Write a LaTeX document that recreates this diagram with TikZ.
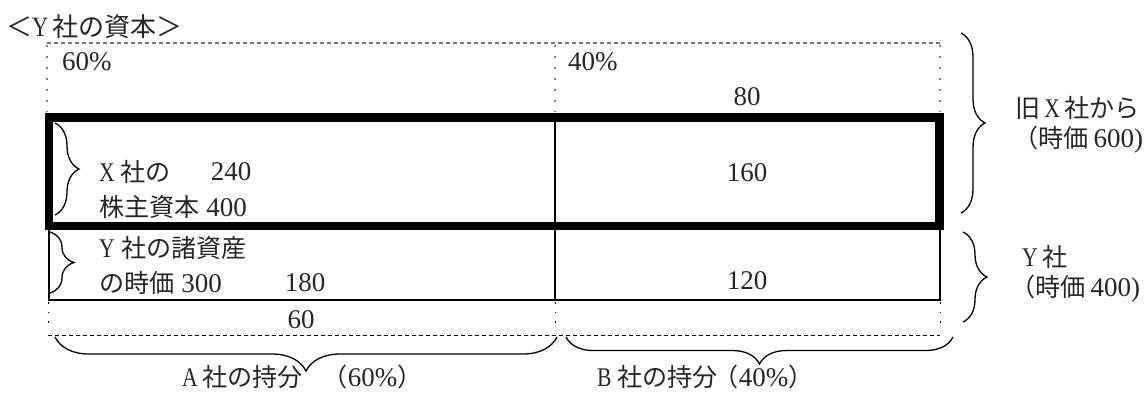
\documentclass[tikz,border=0pt]{standalone}
\usepackage{fontspec}
\setmainfont{Liberation Serif}
\newfontfamily\jp{Noto Sans CJK JP}[Scale=0.93]
\newfontfamily\hw{Liberation Serif}[FakeStretch=0.8]
\usetikzlibrary{decorations.pathreplacing}
\newcommand*{\J}[1]{{\jp #1}}
\newcommand*{\hc}[1]{\makebox[20pt][l]{\hw #1}}

\begin{document}
\begin{tikzpicture}[x=1pt,y=-1pt,
    txt_left/.style ={anchor=west, inner sep=0pt, text=black!85,
      font=\fontsize{27}{31}\selectfont},
    txt_center/.style ={anchor=center, inner sep=0pt, text=black!85,
      font=\fontsize{27}{31}\selectfont},
    line_dash/.style ={draw=black!55, dash pattern=on 4pt off 3pt, line width=1.2pt},
    line_dot/.style ={draw=black!50, dash pattern=on 2pt off 9pt, line width=1.5pt},
    line_dash_low/.style ={draw=black, dash pattern=on 4pt off 3pt, line width=1pt},
    line_dot_low/.style ={draw=black, dash pattern=on 1.5pt off 8pt, line width=1pt},
    block_thick/.style ={draw=black, line width=8.5pt},
    block_thin/.style ={draw=black, line width=1.6pt},
    brace_line/.style ={draw, line width=1.3pt, decorate,
      decoration={brace, amplitude=#1}}]
    \useasboundingbox (0,0) rectangle (1145,392);
    % title
    \node [txt_left, font=\fontsize{28}{32}\selectfont] (title) at (6,27)
      {\J{＜}\hc{Y}\J{社の資本＞}};
    % row 1
    \draw [line_dash] (47,43) -- (940,43);
    \foreach \x in {47,555,940} \draw [line_dot] (\x,45) -- (\x,112);
    \node [txt_left] (pct_a) at (62,62) {60\%};
    \node [txt_left] (pct_b) at (568,62) {40\%};
    \node [txt_center] (val_old_b) at (747,97) {80};
    % row 2
    \draw [block_thick] (49,117.5) rectangle (939.5,226);
    \node [txt_left] (x_cap) at (99,172) {\hc{X}\hspace{1pt}\J{社の}};
    \node [txt_center] (val_old_a) at (231,172) {240};
    \node [txt_left] (x_cap_total) at (99,207) {\J{株主資本} 400};
    \node [txt_center] (val_cap_b) at (747,173) {160};
    % row 3
    \draw [block_thin] (555,122) -- (555,300);
    \draw [block_thin] (49,230) -- (49,300) -- (940,300) -- (940,230);
    \node [txt_left] (y_asset) at (99,248) {\hc{Y}\hspace{2pt}\J{社の諸資産}};
    \node [txt_left] (y_asset_total) at (99,283) {\J{の時価} 300};
    \node [txt_center] (val_asset_a) at (305,283) {180};
    \node [txt_center] (val_asset_b) at (747,281) {120};
    % row 4
    \foreach \x in {48,555,940} \draw [line_dot_low] (\x,302) -- (\x,326);
    \draw [line_dash_low] (48,335) -- (940,335);
    \node [txt_center] (val_good_a) at (301,320) {60};
    % bottom labels
    \node [txt_left] (share_a) at (182,377)
      {\hc{A}\J{社の持分}\hspace{20pt}\J{（}60\%\J{）}};
    \node [txt_left] (share_b) at (597,377)
      {\hc{B}\J{社の持分}\hspace{-4pt}\J{（}40\%\J{）}};
    % right labels
    \node [txt_left] (old_x) at (1015,108) {\J{旧}\hspace{4pt}\hc{X}\J{社から}};
    \node [txt_left] (old_x_value) at (1013,140) {\J{（時価}\hspace{5pt}600)};
    \node [txt_left] (y_co) at (1022,257) {\hc{Y}\J{社}};
    \node [txt_left] (y_co_value) at (1010,289) {\J{（時価}\hspace{5pt}400)};
    % brace end points
    \coordinate (br_cap_top) at (55,123);
    \coordinate (br_cap_bot) at (55,215);
    \coordinate (br_asset_top) at (50,232);
    \coordinate (br_asset_bot) at (50,293);
    \coordinate (br_old_top) at (961,33);
    \coordinate (br_old_bot) at (961,213);
    \coordinate (br_y_top) at (963,232);
    \coordinate (br_y_bot) at (963,322);
    \coordinate (br_a_left) at (55,337);
    \coordinate (br_a_right) at (557,337);
    \coordinate (br_b_left) at (566,337);
    \coordinate (br_b_right) at (953,337);
    % braces
    \begin{scope}[every path/.style={brace_line=24}]
     \path (br_cap_top)   -- (br_cap_bot);
     \path (br_asset_top) -- (br_asset_bot);
     \path (br_old_top)   -- (br_old_bot);
     \path (br_y_top)     -- (br_y_bot);
    \end{scope}
    \path [brace_line=34] (br_a_right) -- (br_a_left);
    \path [brace_line=27] (br_b_right) -- (br_b_left);
  \end{tikzpicture}
\end{document}
